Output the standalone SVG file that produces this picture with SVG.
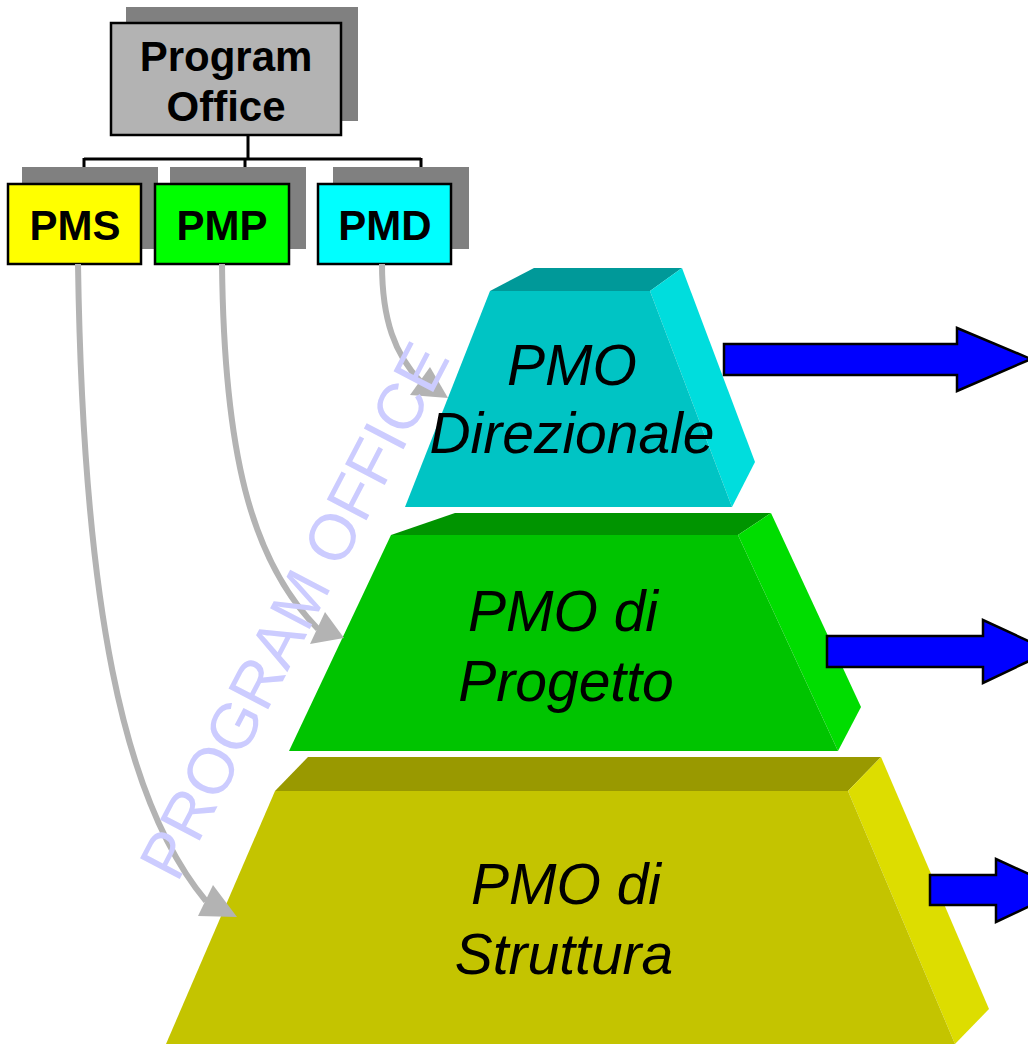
<svg xmlns="http://www.w3.org/2000/svg" width="1028" height="1044" viewBox="0 0 1028 1044">
<style>
.box{stroke:#000;stroke-width:2.5}
.shadow{fill:#808080}
.lbl{font-family:"Liberation Sans",Arial,sans-serif;font-weight:bold;font-size:42px;fill:#000;text-anchor:middle}
.tl{font-family:"Liberation Sans",Arial,sans-serif;font-style:italic;font-size:57px;fill:#000;text-anchor:middle}
.org{fill:none;stroke:#000;stroke-width:3}
.conn{fill:none;stroke:#B3B3B3;stroke-width:6}
.head{fill:#B3B3B3}
.blue{fill:#0000FF;stroke:#000;stroke-width:2.5;stroke-linejoin:miter}
.wm{font-family:"Liberation Sans",Arial,sans-serif;font-size:65px;fill:#CCCCFF;text-anchor:middle}
</style>
<rect width="1028" height="1044" fill="#fff"/>

<g id="program-office">
<rect class="shadow" x="126" y="7" width="232" height="114"/>
<rect class="box" x="111" y="23" width="230" height="112" fill="#B3B3B3"/>
<text class="lbl" x="226" y="71">Program</text>
<text class="lbl" x="226" y="121">Office</text>
</g>

<g id="org-lines">
<path class="org" d="M248,135 V159 M84,159 H421 M84,158 V184 M245,158 V184 M421,158 V184"/>
</g>

<g id="pms">
<rect class="shadow" x="22" y="167" width="136" height="82"/>
<rect class="box" x="8" y="184" width="133" height="80" fill="#FFFF00"/>
<text class="lbl" x="75" y="240">PMS</text>
</g>
<g id="pmp">
<rect class="shadow" x="170" y="167" width="136" height="82"/>
<rect class="box" x="155" y="184" width="134" height="80" fill="#00FF00"/>
<text class="lbl" x="222" y="240">PMP</text>
</g>
<g id="pmd">
<rect class="shadow" x="333" y="167" width="136" height="82"/>
<rect class="box" x="318" y="184" width="133" height="80" fill="#00FFFF"/>
<text class="lbl" x="385" y="240">PMD</text>
</g>

<g id="pmo-direzionale">
<polygon points="490,291 534,268 682,268 650,291" fill="#009999"/>
<polygon points="650,291 682,268 755,462 732,507" fill="#00DDDD"/>
<polygon points="490,291 650,291 732,507 405,507" fill="#00C4C4"/>
<text class="tl" x="572" y="385">PMO</text>
<text class="tl" x="572" y="453">Direzionale</text>
</g>

<g id="pmo-progetto">
<polygon points="391,535 455,513 771,513 738,535" fill="#009400"/>
<polygon points="738,535 771,513 861,707 838,751" fill="#00DD00"/>
<polygon points="391,535 738,535 838,751 289,751" fill="#00C400"/>
<text class="tl" x="563" y="631">PMO di</text>
<text class="tl" x="566" y="701">Progetto</text>
</g>

<g id="pmo-struttura">
<polygon points="275,791 308,757 881,757 848,791" fill="#999900"/>
<polygon points="848,791 881,757 989,1009 955,1044" fill="#DDDD00"/>
<polygon points="275,791 848,791 955,1044 166,1044" fill="#C4C400"/>
<text class="tl" x="566" y="904">PMO di</text>
<text class="tl" x="564" y="974">Struttura</text>
</g>

<g id="connectors">
<path class="conn" d="M78,264 C83,600 122,800 206,901"/>
<polygon class="head" points="213,885 198,916 237,917"/>
<path class="conn" d="M222,264 C224,450 250,560 318,629"/>
<polygon class="head" points="325,612 310,644 344,638"/>
<path class="conn" d="M382,264 C382,320 395,355 421,382"/>
<polygon class="head" points="430,367 410,395 448,398"/>
<polygon class="blue" points="724,344 957,344 957,328 1031,359 957,391 957,375 724,375"/>
<polygon class="blue" points="827,636 983,636 983,620 1050,651 983,683 983,667 827,667"/>
<polygon class="blue" points="930,875 996,875 996,859 1064,890 996,922 996,905 930,905"/>
</g>

<g id="watermark">
<text class="wm" transform="translate(314,621) rotate(-62.5)">PROGRAM OFFICE</text>
</g>
</svg>
